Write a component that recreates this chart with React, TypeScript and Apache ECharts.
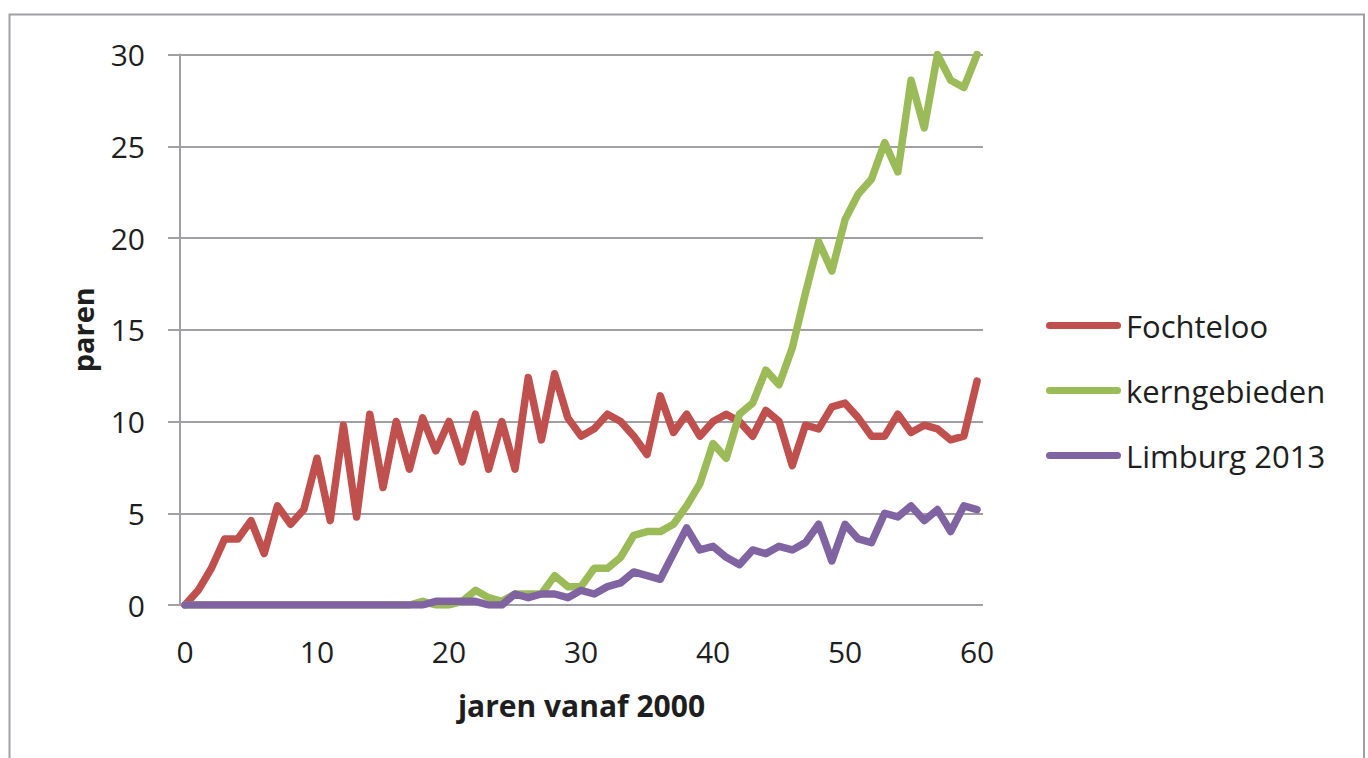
import React, { useEffect, useRef } from 'react';
import * as echarts from 'echarts';

const years = [
  0, 1, 2, 3, 4, 5, 6, 7, 8, 9, 10, 11, 12, 13, 14, 15, 16, 17, 18, 19, 20,
  21, 22, 23, 24, 25, 26, 27, 28, 29, 30, 31, 32, 33, 34, 35, 36, 37, 38, 39, 40,
  41, 42, 43, 44, 45, 46, 47, 48, 49, 50, 51, 52, 53, 54, 55, 56, 57, 58, 59, 60,
];

const fochteloo = [
  0, 0.8, 2.0, 3.6, 3.6, 4.6, 2.8, 5.4, 4.4, 5.2, 8.0,
  4.6, 9.8, 4.8, 10.4, 6.4, 10.0, 7.4, 10.2, 8.4, 10.0,
  7.8, 10.4, 7.4, 10.0, 7.4, 12.4, 9.0, 12.6, 10.2, 9.2,
  9.6, 10.4, 10.0, 9.2, 8.2, 11.4, 9.4, 10.4, 9.2, 10.0,
  10.4, 10.0, 9.2, 10.6, 10.0, 7.6, 9.8, 9.6, 10.8, 11.0,
  10.2, 9.2, 9.2, 10.4, 9.4, 9.8, 9.6, 9.0, 9.2, 12.2,
];

const kerngebieden = [
  0, 0, 0, 0, 0, 0, 0, 0, 0, 0, 0,
  0, 0, 0, 0, 0, 0, 0, 0.2, 0, 0,
  0.2, 0.8, 0.4, 0.2, 0.6, 0.6, 0.6, 1.6, 1.0, 1.0,
  2.0, 2.0, 2.6, 3.8, 4.0, 4.0, 4.4, 5.4, 6.6, 8.8,
  8.0, 10.4, 11.0, 12.8, 12.0, 14.0, 17.0, 19.8, 18.2, 21.0,
  22.4, 23.2, 25.2, 23.6, 28.6, 26.0, 30.0, 28.6, 28.2, 30.0,
];

const limburg2013 = [
  0, 0, 0, 0, 0, 0, 0, 0, 0, 0, 0,
  0, 0, 0, 0, 0, 0, 0, 0, 0.2, 0.2,
  0.2, 0.2, 0, 0, 0.6, 0.4, 0.6, 0.6, 0.4, 0.8,
  0.6, 1.0, 1.2, 1.8, 1.6, 1.4, 2.8, 4.2, 3.0, 3.2,
  2.6, 2.2, 3.0, 2.8, 3.2, 3.0, 3.4, 4.4, 2.4, 4.4,
  3.6, 3.4, 5.0, 4.8, 5.4, 4.6, 5.2, 4.0, 5.4, 5.2,
];

const xTickLabels = [0, 10, 20, 30, 40, 50, 60];
const seriesNames = ['Fochteloo', 'kerngebieden', 'Limburg 2013'];
const seriesColors = ['#C0504D', '#9BBB59', '#8064A2'];

const FONT = '"Open Sans", "Noto Sans", sans-serif';
const GRAY = '#A0A0A4';
const TEXT = '#1e1e1e';
const CAPSULE = 'path://M3.5,0 H71.5 A3.5,3.5 0 0 1 71.5,7 H3.5 A3.5,3.5 0 0 1 3.5,0 Z';

export default function App() {
  const ref = useRef<HTMLDivElement>(null);

  useEffect(() => {
    document.body.style.margin = '0';
    const chart = echarts.init(ref.current!, null, { renderer: 'svg' });
    const values = [fochteloo, kerngebieden, limburg2013];

    chart.setOption({
      animation: false,
      backgroundColor: '#ffffff',
      graphic: [
        {
          type: 'rect',
          shape: { x: 9.5, y: 14.5, width: 1354.5, height: 800 },
          style: { fill: 'none', stroke: GRAY, lineWidth: 2 },
          silent: true,
        },
      ],
      grid: { left: 180, top: 54.5, width: 803, height: 550.5 },
      xAxis: {
        type: 'value',
        min: -0.38,
        max: 60.45,
        name: 'jaren vanaf 2000',
        nameLocation: 'middle',
        nameGap: 85,
        nameTextStyle: { fontFamily: FONT, fontSize: 30, fontWeight: 'bold', color: TEXT },
        axisLine: { show: false },
        axisTick: { show: false },
        splitLine: { show: false },
        axisLabel: {
          customValues: xTickLabels,
          margin: 31,
          fontFamily: FONT,
          fontSize: 30,
          color: TEXT,
        },
      },
      yAxis: {
        type: 'value',
        min: 0,
        max: 30,
        interval: 5,
        name: 'paren',
        nameLocation: 'middle',
        nameGap: 83,
        nameTextStyle: { fontFamily: FONT, fontSize: 29, fontWeight: 'bold', color: TEXT },
        axisLine: { show: true, onZero: false, lineStyle: { color: GRAY, width: 2 } },
        axisTick: { show: true, inside: false, length: 12, lineStyle: { color: GRAY, width: 2 } },
        splitLine: { show: true, lineStyle: { color: GRAY, width: 2 } },
        axisLabel: { margin: 35, fontFamily: FONT, fontSize: 30, color: TEXT },
      },
      legend: {
        orient: 'vertical',
        left: 1046,
        top: 310,
        padding: 0,
        itemWidth: 75,
        itemHeight: 7,
        itemGap: 34,
        icon: CAPSULE,
        data: seriesNames,
        textStyle: { fontFamily: FONT, fontSize: 31, lineHeight: 31, color: TEXT },
      },
      series: seriesNames.map((name, k) => ({
        name,
        type: 'line',
        symbol: 'none',
        color: seriesColors[k],
        lineStyle: { width: 7.5, color: seriesColors[k], cap: 'round', join: 'round' },
        data: years.map((x, i) => [x, values[k][i]]),
      })),
    });

    return () => chart.dispose();
  }, []);

  return (
    <div
      ref={ref}
      style={{ position: 'absolute', left: 0, top: 0, width: 1368, height: 758, background: '#fff' }}
    />
  );
}
